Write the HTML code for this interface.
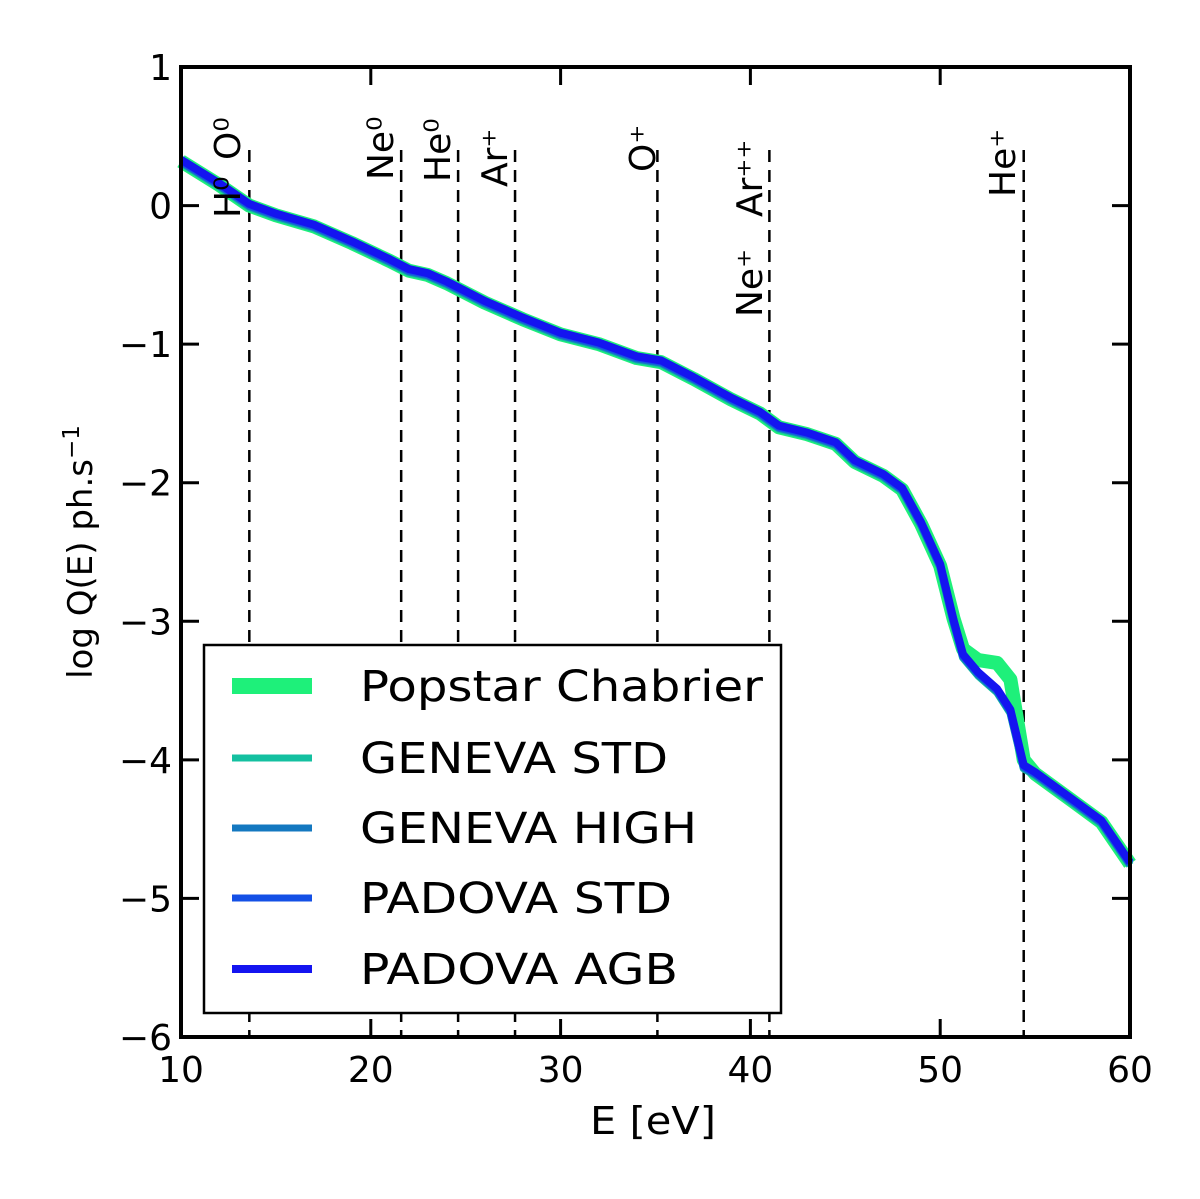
<!DOCTYPE html>
<html><head><meta charset="utf-8"><style>
body{margin:0;background:#fff}
svg text{font-family:"DejaVu Sans","Liberation Sans",sans-serif;fill:#000}
</style></head><body>
<svg width="1200" height="1194" viewBox="0 0 1200 1194">
<g id="plot"></g>
</svg>
<script>
const energies=[10,12,13.6,15,17,19,21,22,23,24,26,28,30,32,34,35.3,37,39,40.5,41.5,43,44.5,45.5,47,48,49,50,50.7,51.2,52,53,53.7,54.4,55,57,58.5,60];
const logQ=[0.32,0.15,0.0,-0.07,-0.15,-0.27,-0.4,-0.47,-0.5,-0.56,-0.7,-0.82,-0.93,-1.0,-1.1,-1.13,-1.25,-1.4,-1.5,-1.6,-1.65,-1.72,-1.85,-1.95,-2.05,-2.3,-2.6,-3.0,-3.25,-3.38,-3.5,-3.65,-4.05,-4.1,-4.3,-4.45,-4.75];
const popstarLogQ=[0.32,0.15,0.0,-0.07,-0.15,-0.27,-0.4,-0.47,-0.5,-0.56,-0.7,-0.82,-0.93,-1.0,-1.1,-1.13,-1.25,-1.4,-1.5,-1.6,-1.65,-1.72,-1.85,-1.95,-2.05,-2.3,-2.6,-2.98,-3.2,-3.28,-3.3,-3.42,-4.0,-4.1,-4.3,-4.45,-4.75];
const edgeNames=[["H\u2070","O\u2070"],["Ne\u2070"],["He\u2070"],["Ar\u207A"],["O\u207A"],["Ne\u207A","Ar\u207A\u207A"],["He\u207A"]];
const edgeEnergies=[13.6,21.6,24.6,27.6,35.1,41.0,54.4];
const xTicks=[10,20,30,40,50,60];
const yTicks=[1,0,-1,-2,-3,-4,-5,-6];
const seriesNames=["Popstar Chabrier","GENEVA STD","GENEVA HIGH","PADOVA STD","PADOVA AGB"];
const seriesColors=["#1ef07a","#14c0a0","#1478c0","#1450e6","#1414f0"];
const seriesWidths=[16,7,7,7,8];
const legendTextLen=[403,308,337,312,318];

const X0=181,X1=1130,Y0=67,Y1=1037;
const sx=v=>X0+(v-10)/50*(X1-X0);
const sy=v=>Y0+(1-v)/7*(Y1-Y0);
const g=document.getElementById('plot');
const NS="http://www.w3.org/2000/svg";
function mk(t,a,p){const e=document.createElementNS(NS,t);for(const k in a)e.setAttribute(k,a[k]);(p||g).appendChild(e);return e;}

edgeEnergies.forEach((E,i)=>{
  const l=mk('line',{x1:sx(E),x2:sx(E),y1:150,y2:Y1,stroke:'#000','stroke-width':2.5,'stroke-dasharray':'12,8'});
  
  
});
function path(xs,ys){return xs.map((x,i)=>(i?'L':'M')+sx(x).toFixed(1)+','+sy(ys[i]).toFixed(1)).join(' ');}
const p0=mk('path',{d:path(energies,popstarLogQ),fill:'none',stroke:seriesColors[0],'stroke-width':14,'stroke-linejoin':'round'});


for(let i=1;i<5;i++){
  const p=mk('path',{d:path(energies,logQ.map(v=>v+(i-2.5)*0.008)),fill:'none',stroke:seriesColors[i],'stroke-width':8,'stroke-linejoin':'round'});
  
  
}
const labelX=[230,383,440,497,645,752,1005];
const labelTop=[[218,160],[180],[182],[187],[172],[317,217],[197]];
edgeNames.forEach((names,i)=>{
  names.forEach((n,j)=>{
    const x=labelX[i], y=labelTop[i][j];
    const t=mk('text',{x:x,y:y,transform:`rotate(-90 ${x} ${y})`,'font-size':36,'dominant-baseline':'middle'});
    t.textContent=n;
    
    
  });
});
const fr=mk('rect',{x:X0,y:Y0,width:X1-X0,height:Y1-Y0,fill:'none',stroke:'#000','stroke-width':4});


xTicks.forEach(v=>{
  mk('line',{x1:sx(v),x2:sx(v),y1:Y1,y2:Y1-18,stroke:'#000','stroke-width':3});
  mk('line',{x1:sx(v),x2:sx(v),y1:Y0,y2:Y0+18,stroke:'#000','stroke-width':3});
  const t=mk('text',{x:sx(v),y:1082,'font-size':36,'text-anchor':'middle'});t.textContent=v;
  
  
});
yTicks.forEach(v=>{
  mk('line',{x1:X0,x2:X0+18,y1:sy(v),y2:sy(v),stroke:'#000','stroke-width':3});
  mk('line',{x1:X1,x2:X1-18,y1:sy(v),y2:sy(v),stroke:'#000','stroke-width':3});
  const t=mk('text',{x:172,y:sy(v)+13,'font-size':36,'text-anchor':'end'});t.textContent=(v<0?'\u2212'+(-v):v);
  
  
});
const xl=mk('text',{x:590,y:1134,'font-size':38,textLength:126,lengthAdjust:'spacingAndGlyphs'});xl.textContent='E [eV]';


const yl=mk('text',{x:92,y:552,'font-size':34,'text-anchor':'middle',transform:'rotate(-90 92 552)'});
yl.innerHTML='log Q(E) ph.s<tspan dy="-13" font-size="23">\u22121</tspan>';


const lg=mk('rect',{x:204,y:645,width:577,height:368,fill:'#fff',stroke:'#000','stroke-width':2.5});


const ly=[686,758,828,898,969];
seriesNames.forEach((n,i)=>{
  const l=mk('line',{x1:232,x2:312,y1:ly[i],y2:ly[i],stroke:seriesColors[i],'stroke-width':seriesWidths[i]});
  
  
  const t=mk('text',{x:360,y:ly[i]+15,'font-size':43,textLength:legendTextLen[i],lengthAdjust:'spacingAndGlyphs'});t.textContent=n;
  
  
});
</script>
</body></html>
